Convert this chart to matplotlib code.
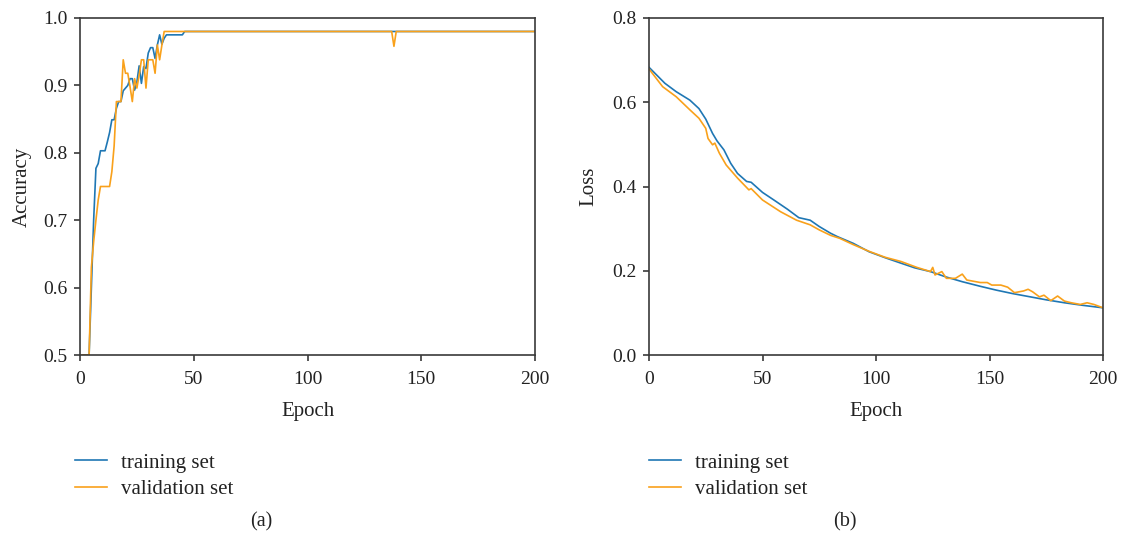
import matplotlib
matplotlib.use("Agg")
import matplotlib.pyplot as plt

# ---------------- data ----------------
# Accuracy (breakpoints of the polylines; epoch, value)
acc_train_epochs = [1, 2, 3, 4, 5, 6, 7, 8, 9, 10, 11, 12, 13, 14, 15, 16, 17, 18, 19, 20,
                    21, 22, 23, 24, 25, 26, 27, 28, 29, 30, 31, 32, 33, 34, 35, 36, 37, 38,
                    45, 46, 200]
acc_train = [0.5, 0.5, 0.5, 0.5, 0.60, 0.70, 0.777, 0.784, 0.803, 0.803, 0.803, 0.816, 0.830,
             0.849, 0.849, 0.866, 0.876, 0.876, 0.892, 0.896, 0.900, 0.910, 0.910, 0.893,
             0.905, 0.929, 0.903, 0.928, 0.925, 0.948, 0.956, 0.956, 0.940, 0.960, 0.975,
             0.961, 0.970, 0.975, 0.975, 0.980, 0.980]

acc_val_epochs = [1, 2, 3, 4, 5, 6, 7, 8, 9, 10, 11, 12, 13, 14, 15, 16, 17, 18, 19, 20,
                  21, 22, 23, 24, 25, 26, 27, 28, 29, 30, 31, 32, 33, 34, 35, 36, 37,
                  137, 138, 139, 200]
acc_val = [0.5, 0.5, 0.5, 0.5, 0.63, 0.668, 0.70, 0.73, 0.75, 0.75, 0.75, 0.75, 0.75,
           0.772, 0.810, 0.876, 0.876, 0.876, 0.938, 0.918, 0.918, 0.898, 0.876, 0.910,
           0.896, 0.915, 0.938, 0.938, 0.896, 0.938, 0.938, 0.938, 0.918, 0.960, 0.938,
           0.960, 0.980, 0.980, 0.958, 0.980, 0.980]

# Loss (breakpoints; epoch, value)
loss_train_epochs = [0, 7, 12, 18, 22, 25, 28, 30, 33, 36, 39, 43, 45, 50, 55, 61, 66, 71,
                     75, 80, 83, 90, 97, 104, 111, 117, 124, 131, 138, 146, 153, 160, 168,
                     175, 183, 191, 200]
loss_train = [0.683, 0.645, 0.625, 0.605, 0.585, 0.560, 0.526, 0.508, 0.487, 0.455, 0.431,
              0.412, 0.410, 0.386, 0.368, 0.346, 0.326, 0.320, 0.305, 0.289, 0.281, 0.265,
              0.245, 0.231, 0.218, 0.207, 0.198, 0.185, 0.174, 0.163, 0.154, 0.146, 0.138,
              0.131, 0.124, 0.118, 0.112]

loss_val_epochs = [0, 6, 12, 18, 22, 25, 26, 28, 29, 31, 34, 39, 44, 45, 50, 58, 65, 71, 75,
                   80, 84, 90, 97, 104, 111, 115, 118, 121, 124, 125, 126, 129, 131, 135,
                   138, 140, 146, 149, 151, 155, 158, 161, 165, 167, 169, 172, 174, 177,
                   180, 183, 186, 190, 193, 196, 200]
loss_val = [0.679, 0.637, 0.613, 0.582, 0.562, 0.538, 0.514, 0.499, 0.503, 0.479, 0.451,
            0.420, 0.392, 0.395, 0.368, 0.340, 0.320, 0.309, 0.297, 0.284, 0.277, 0.262,
            0.246, 0.232, 0.222, 0.214, 0.208, 0.203, 0.198, 0.208, 0.190, 0.198, 0.182,
            0.182, 0.192, 0.178, 0.172, 0.172, 0.166, 0.166, 0.161, 0.148, 0.152, 0.156,
            0.150, 0.138, 0.142, 0.129, 0.140, 0.128, 0.124, 0.120, 0.124, 0.120, 0.112]

series_labels = ["training set", "validation set"]
acc_yticks = [0.5, 0.6, 0.7, 0.8, 0.9, 1.0]
loss_yticks = [0.0, 0.2, 0.4, 0.6, 0.8]
x_ticks = [0, 50, 100, 150, 200]
captions = ["(a)", "(b)"]

# ---------------- style ----------------
plt.rcParams["font.family"] = ["Liberation Serif", "DejaVu Serif"]
BLUE = "#1f77b4"
ORANGE = "#f9a11b"
SPINE = "#3a3a3a"
TEXT = "#222222"

W, H = 1126, 538
fig = plt.figure(figsize=(W / 100, H / 100), dpi=100)

def fx(px):
    return px / W

def fy(py):
    return 1 - py / H

ax1 = fig.add_axes([fx(80), fy(355), fx(535) - fx(80), fy(18) - fy(355)])
ax2 = fig.add_axes([fx(649), fy(355), fx(1103) - fx(649), fy(18) - fy(355)])

l1, = ax1.plot(acc_train_epochs, acc_train, color=BLUE, lw=1.2, label=series_labels[0])
l2, = ax1.plot(acc_val_epochs, acc_val, color=ORANGE, lw=1.2, label=series_labels[1])
ax1.set_xlim(0, 200)
ax1.set_ylim(0.5, 1.0)
ax1.set_yticks(acc_yticks)
ax1.set_yticklabels([f"{v:.1f}" for v in acc_yticks])
ax1.set_ylabel("Accuracy", fontsize=15, color=TEXT, labelpad=8)

m1, = ax2.plot(loss_train_epochs, loss_train, color=BLUE, lw=1.2, label=series_labels[0])
m2, = ax2.plot(loss_val_epochs, loss_val, color=ORANGE, lw=1.2, label=series_labels[1])
ax2.set_xlim(0, 200)
ax2.set_ylim(0.0, 0.8)
ax2.set_yticks(loss_yticks)
ax2.set_yticklabels([f"{v:.1f}" for v in loss_yticks])
ax2.set_ylabel("Loss", fontsize=15, color=TEXT, labelpad=10)

for ax in (ax1, ax2):
    ax.set_xticks(x_ticks)
    ax.set_xlabel("Epoch", fontsize=15, color=TEXT, labelpad=10)
    for s in ax.spines.values():
        s.set_color(SPINE)
        s.set_linewidth(1.2)
    ax.tick_params(direction="out", length=4, width=1.2, color=SPINE,
                   labelsize=14, labelcolor=TEXT, top=False, right=False)
    ax.tick_params(axis="y", pad=5)
    ax.tick_params(axis="x", pad=7.5)

leg_kw = dict(loc="upper left", frameon=False, fontsize=15, handlelength=1.55,
              handletextpad=0.65, labelspacing=0.33, borderpad=0, borderaxespad=0,
              bbox_transform=fig.transFigure, labelcolor=TEXT)
ax1.legend(handles=[l1, l2], bbox_to_anchor=(fx(75), fy(453)), **leg_kw)
ax2.legend(handles=[m1, m2], bbox_to_anchor=(fx(649), fy(453)), **leg_kw)

fig.text(fx(261), fy(522), captions[0], ha="center", va="center", fontsize=14.5, color=TEXT)
fig.text(fx(845), fy(522), captions[1], ha="center", va="center", fontsize=14.5, color=TEXT)

fig.savefig("out.png", dpi=100)
